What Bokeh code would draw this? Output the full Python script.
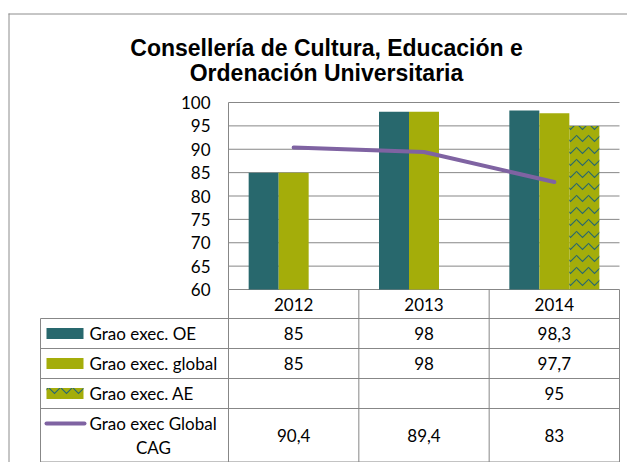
from bokeh.plotting import figure
from bokeh.models import Range1d, LinearAxis, FixedTicker, ColumnDataSource
from bokeh.core.properties import value
from bokeh.embed import file_html
from bokeh.resources import INLINE

# ---------------- data ----------------
years = ["2012", "2013", "2014"]
oe = [85, 98, 98.3]
glob = [85, 98, 97.7]
ae = [None, None, 95]
cag = [90.4, 89.4, 83]
series_names = ["Grao exec. OE", "Grao exec. global", "Grao exec. AE", "Grao exec Global CAG"]
yticks = [60, 65, 70, 75, 80, 85, 90, 95, 100]
title_lines = ["Consellería de Cultura, Educación e", "Ordenación Universitaria"]

# ---------------- style / layout constants ----------------
TEAL = "#28686d"
OLIVE = "#a4ad0a"
PURPLE = "#7f63a2"
GRID = "#878787"
FONT = "Lato"
FS = "17px"

W, H = 627, 462
PLOT_L = 228               # canvas x of plot-area left edge
PLOT_W = 391               # plot-area width (3 categories)
PLOT_T, PLOT_B = 102, 289  # canvas y of value 100 and value 60
PX = PLOT_W / 3.0          # px per category
VPX = (PLOT_B - PLOT_T) / (yticks[-1] - yticks[0])   # px per value unit

x0 = -0.5 - PLOT_L / PX
x1 = x0 + W / PX
y_lo = yticks[0] - (H - PLOT_B) / VPX
y_hi = yticks[-1] + PLOT_T / VPX


def cx(px):
    """canvas pixel x -> category x"""
    return x0 + px / PX


p = figure(width=W, height=H, output_backend="svg", toolbar_location=None,
           x_range=Range1d(x0, x1), y_range=Range1d(y_lo, y_hi),
           x_axis_type=None, y_axis_type=None,
           min_border_left=0, min_border_right=0, min_border_top=0, min_border_bottom=0)
p.extra_y_ranges = {"px": Range1d(H, 0)}
p.outline_line_color = None
p.xgrid.visible = False
p.ygrid.visible = False
p.background_fill_color = "white"
p.border_fill_color = "white"

# ---------------- chart ----------------
xs = list(range(len(years)))
bw = 30 / PX

# horizontal gridlines at tick values
p.segment(x0=[-0.5] * len(yticks), y0=yticks, x1=[2.5] * len(yticks), y1=yticks,
          line_color=GRID, line_width=1)

yax = LinearAxis(ticker=FixedTicker(ticks=yticks), fixed_location=-0.5,
                 bounds=(yticks[0], yticks[-1]))
yax.axis_line_color = GRID
yax.axis_line_width = 1
yax.major_tick_out = 0
yax.major_tick_in = 0
yax.minor_tick_out = 0
yax.minor_tick_in = 0
yax.major_label_standoff = 18
yax.major_label_text_font = FONT
yax.major_label_text_font_size = FS
yax.major_label_text_color = "black"
p.add_layout(yax, "left")

src_oe = ColumnDataSource(dict(x=[v - bw for v in xs], top=oe))
src_gl = ColumnDataSource(dict(x=list(xs), top=glob))
ae_x = [x + bw for x, v in zip(xs, ae) if v is not None]
ae_t = [v for v in ae if v is not None]
src_ae = ColumnDataSource(dict(x=ae_x, top=ae_t))

p.vbar(x="x", top="top", bottom=yticks[0], width=bw, source=src_oe,
       fill_color=TEAL, line_color=None)
p.vbar(x="x", top="top", bottom=yticks[0], width=bw, source=src_gl,
       fill_color=OLIVE, line_color=None)
p.vbar(x="x", top="top", bottom=yticks[0], width=bw, source=src_ae,
       fill_color=OLIVE, line_color=None, hatch_pattern="v",
       hatch_color=TEAL, hatch_scale=12, hatch_weight=1.1)
p.line(x=xs, y=cag, line_color=PURPLE, line_width=4, line_cap="round")

# ---------------- title & outer border ----------------
p.text(x=[cx(326)] * 2, y=[47, 72], text=title_lines, y_range_name="px",
       text_align="center", text_baseline="alphabetic",
       text_font=value("Liberation Sans"), text_font_style="bold",
       text_font_size="23px", text_color="black")
p.segment(x0=[cx(8.5), cx(8)], y0=[13, 13.5], x1=[cx(8.5), x1], y1=[H, 13.5],
          y_range_name="px", line_color="#8c8c8c", line_width=1)

# ---------------- data table ----------------
TOP = PLOT_B                     # 289
row_lines = [TOP + 29, TOP + 59, TOP + 89, TOP + 119, TOP + 172.5]
header_y = TOP + 14.5
row_centers = [TOP + 44, TOP + 74, TOP + 104, TOP + 146]
leg_left = cx(40)
right = 2.5

p.segment(x0=[leg_left] * len(row_lines), y0=row_lines,
          x1=[right] * len(row_lines), y1=row_lines,
          y_range_name="px", line_color=GRID, line_width=1)
vx = [-0.5, 0.5, 1.5, right]
p.segment(x0=vx, y0=[TOP] * 4, x1=vx, y1=[H] * 4, y_range_name="px",
          line_color=GRID, line_width=1)
p.segment(x0=[leg_left], y0=[row_lines[0]], x1=[leg_left], y1=[H], y_range_name="px",
          line_color=GRID, line_width=1)

txt = dict(text_font=value(FONT), text_font_size=FS, text_color="black",
           text_baseline="middle", y_range_name="px")
p.text(x=xs, y=[header_y] * 3, text=years, text_align="center", **txt)


def fmt(v):
    return "" if v is None else f"{v:g}".replace(".", ",")


for r, series in enumerate([oe, glob, ae, cag]):
    p.text(x=xs, y=[row_centers[r]] * 3, text=[fmt(v) for v in series],
           text_align="center", **txt)

# legend keys
kx0, kx1 = cx(46), cx(83)
kw = kx1 - kx0
kxc = (kx0 + kx1) / 2
p.rect(x=[kxc], y=[row_centers[0]], width=kw, height=11, y_range_name="px",
       fill_color=TEAL, line_color=None)
p.rect(x=[kxc], y=[row_centers[1]], width=kw, height=11, y_range_name="px",
       fill_color=OLIVE, line_color=None)
p.rect(x=[kxc], y=[row_centers[2]], width=kw, height=11, y_range_name="px",
       fill_color=OLIVE, line_color=None, hatch_pattern="v",
       hatch_color=TEAL, hatch_scale=12, hatch_weight=1.1)
p.line(x=[cx(46), cx(84)], y=[TOP + 134] * 2, y_range_name="px",
       line_color=PURPLE, line_width=4, line_cap="round")

lab_x = cx(89)
p.text(x=[lab_x] * 3, y=row_centers[:3], text=series_names[:3], text_align="left", **txt)
words = series_names[3].rsplit(" ", 1)
p.text(x=[lab_x], y=[TOP + 134], text=[words[0]], text_align="left", **txt)
p.text(x=[cx(153)], y=[TOP + 158], text=[words[1]], text_align="center", **txt)

open("out.html", "w").write(file_html(p, INLINE))
